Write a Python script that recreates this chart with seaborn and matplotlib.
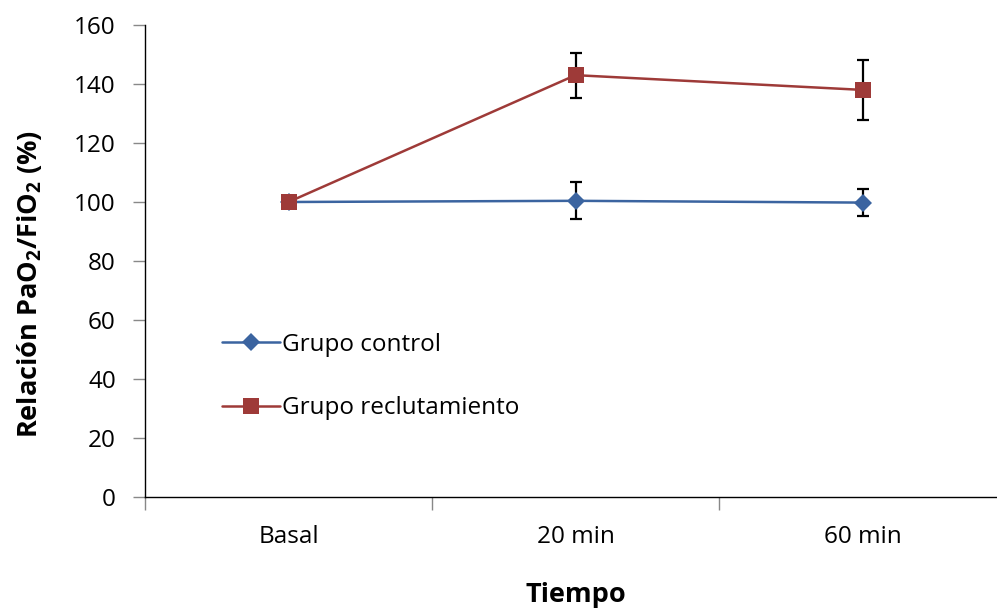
import matplotlib
matplotlib.use("Agg")
import matplotlib.pyplot as plt
import seaborn as sns
import pandas as pd

# Data
tiempos = ["Basal", "20 min", "60 min"]
control = [100.0, 100.4, 99.8]
control_err_hi = [0.0, 6.4, 4.6]
control_err_lo = [0.0, 6.2, 4.5]
reclut = [100.0, 143.0, 138.0]
reclut_err_hi = [0.0, 7.5, 10.3]
reclut_err_lo = [0.0, 7.6, 10.1]
series = ["Grupo control", "Grupo reclutamiento"]
colors = ["#3B64A0", "#9E3A38"]
yticks = [0, 20, 40, 60, 80, 100, 120, 140, 160]

sns.set_theme(style="white")
plt.rcParams["font.family"] = ["Open Sans", "DejaVu Sans"]
plt.rcParams["mathtext.fontset"] = "custom"
plt.rcParams["mathtext.rm"] = "Open Sans"
plt.rcParams["mathtext.bf"] = "Open Sans:bold"
plt.rcParams["text.color"] = "black"
plt.rcParams["axes.labelcolor"] = "black"

df = pd.DataFrame({
    "Tiempo": tiempos * 2,
    "valor": control + reclut,
    "grupo": [series[0]] * 3 + [series[1]] * 3,
})

fig = plt.figure(figsize=(9.97, 6.08), dpi=100)
ax = fig.add_axes([145 / 997, 111 / 608, (1006 - 145) / 997, 472 / 608])

sns.lineplot(data=df, x="Tiempo", y="valor", hue="grupo", style="grupo",
             palette=colors, markers={series[0]: "D", series[1]: "s"},
             dashes=False, linewidth=1.8, markersize=11, markeredgewidth=0,
             sort=False, ax=ax, zorder=3)
for ln in ax.lines:
    if ln.get_marker() == "D":
        ln.set_markersize(9.5)

# Error bars (black) under the markers
for vals, lo, hi in [(control, control_err_lo, control_err_hi), (reclut, reclut_err_lo, reclut_err_hi)]:
    ax.errorbar(tiempos[1:], vals[1:], yerr=[lo[1:], hi[1:]], fmt="none",
                ecolor="black", elinewidth=1.6, capsize=4.3, capthick=1.6, zorder=2)

ax.set_xlim(-0.5, 2.5)
ax.set_ylim(0, 160)
ax.set_yticks(yticks)
ax.set_xticks([0, 1, 2])
ax.set_xticklabels(tiempos)
ax.tick_params(axis="both", labelsize=17.5, colors="black")
ax.tick_params(axis="y", which="major", direction="out", length=9, width=1, color="#888888", left=True, pad=12)
ax.tick_params(axis="x", which="major", length=0, pad=20)
ax.set_xticks([-0.5, 0.5, 1.5], minor=True)
ax.tick_params(axis="x", which="minor", direction="out", length=9, width=1, color="#888888", bottom=True)

for s in ["top", "right"]:
    ax.spines[s].set_visible(False)
for s in ["left", "bottom"]:
    ax.spines[s].set_color("black")
    ax.spines[s].set_linewidth(1.0)

ax.set_ylabel(r"Relación PaO$_\mathbf{2}$/FiO$_\mathbf{2}$ (%)", fontsize=19.5, fontweight="bold")
ax.yaxis.set_label_coords((44 - 145) / 861, (497 - 284) / 472)
ax.set_xlabel("Tiempo", fontsize=19.5, fontweight="bold", labelpad=24)

leg = ax.legend(frameon=False, loc="upper left", bbox_to_anchor=(212 / 997, 285 / 608),
                bbox_transform=fig.transFigure, fontsize=17.5, handlelength=2.4,
                labelspacing=1.62, handletextpad=0.1, borderaxespad=0)
for h in leg.legend_handles:
    h.set_linewidth(1.8)

fig.savefig("out.png", dpi=100)
